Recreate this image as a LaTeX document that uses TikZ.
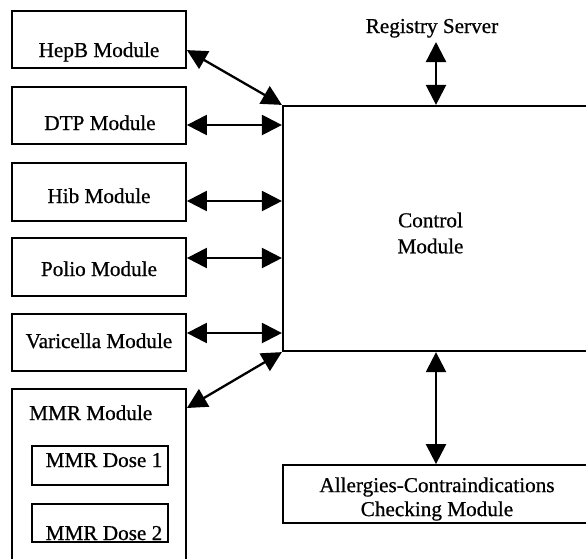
\documentclass[tikz,border=0pt]{standalone}
\usepackage{fontspec}
\setmainfont{Liberation Serif}[FakeBold=0.7]
\usetikzlibrary{arrows.meta,calc}

\tikzset{
  box/.style={draw=black, line width=1.8pt, inner sep=0pt, rectangle},
  lbl/.style={inner sep=0pt, font=\fontsize{21.2}{24}\selectfont},
  arr/.style={line width=2.3pt, {Triangle[length=20pt,width=20pt]}-{Triangle[length=20pt,width=20pt]}},
  edge/.style={line width=2.2pt}
}

\begin{document}
\begin{tikzpicture}[x=1pt,y=-1pt]
\useasboundingbox (0,0) rectangle (586,558);
\clip (0,0) rectangle (586,558);

% vaccine modules on the left
\node[box, minimum width=174pt, minimum height=57pt] (hepb) at (99,39.5) {};
\node[box, minimum width=174pt, minimum height=57pt] (dtp)  at (99,115.5) {};
\node[box, minimum width=174pt, minimum height=58pt] (hib)  at (99,192) {};
\node[box, minimum width=174pt, minimum height=58pt] (polio) at (99,267) {};
\node[box, minimum width=174pt, minimum height=57pt] (vari) at (99,342.5) {};
\node[box, minimum width=174pt, minimum height=190pt] (mmr) at (99,484) {};
\node[box, minimum width=136pt, minimum height=39pt] (dose1) at (100,465.5) {};
\node[box, minimum width=136pt, minimum height=38pt] (dose2) at (100,523) {};

\node[lbl, anchor=base] (thepb)  at (99,57)  {HepB Module};
\node[lbl, anchor=base] (tdtp)   at (100,130) {DTP Module};
\node[lbl, anchor=base] (thib)   at (99,203) {Hib Module};
\node[lbl, anchor=base] (tpolio) at (99,276) {Polio Module};
\node[lbl, anchor=base] (tvari)  at (99,348) {Varicella Module};
\node[lbl, anchor=base west] (tmmr) at (29,420) {MMR Module};
\node[lbl, anchor=base] (tdose1) at (104,467) {MMR Dose 1};
\node[lbl, anchor=base] (tdose2) at (104,540) {MMR Dose 2};

% control module, open to the right
\node[box, line width=2.2pt, minimum width=320pt, minimum height=245pt] (ctrl) at (443,228.5) {};
\node[lbl, align=center] (tctrl) at (430.5,233) {Control\\[2pt]Module};

% registry server and allergy checking
\node[lbl, anchor=base] (reg) at (432,33) {Registry Server};
\coordinate (regx) at (436,0);
\node[box, minimum width=320pt, minimum height=58pt] (alg) at (443,494) {};
\node[lbl, align=center] (talg) at (437,499) {Allergies-Contraindications\\Checking Module};

% connectors
\coordinate (ydtp) at (0,125);
\coordinate (yhib) at (0,201);
\coordinate (ypolio) at (0,258);
\coordinate (yvari) at (0,333);
\coordinate (ymmr) at (0,408);

\draw[arr] ($(hepb.north east)!0.68!(hepb.south east)$) -- (ctrl.north west);
\draw[arr] (dtp.east |- ydtp) -- (ctrl.west |- ydtp);
\draw[arr] (hib.east |- yhib) -- (ctrl.west |- yhib);
\draw[arr] (polio.east |- ypolio) -- (ctrl.west |- ypolio);
\draw[arr] (vari.east |- yvari) -- (ctrl.west |- yvari);
\draw[arr] (mmr.east |- ymmr) -- (ctrl.south west);
\draw[arr] (regx |- 0,42) -- (regx |- ctrl.north);
\draw[arr] (regx |- ctrl.south) -- (regx |- alg.north);
\end{tikzpicture}
\end{document}
